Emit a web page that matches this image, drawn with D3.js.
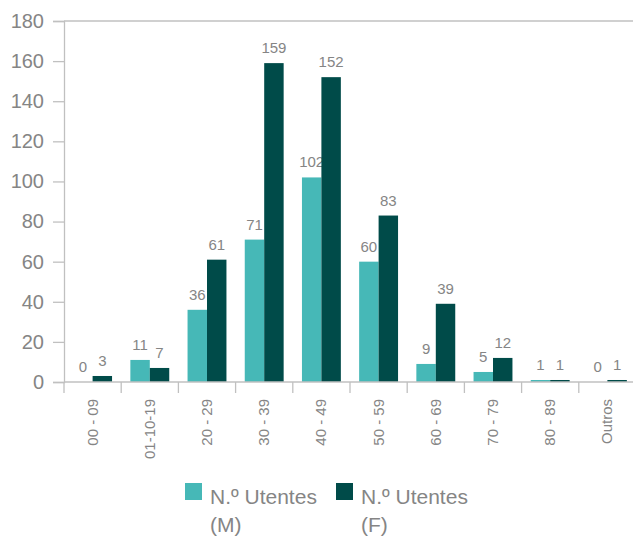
<!DOCTYPE html>
<html><head><meta charset="utf-8">
<script src="https://cdn.jsdelivr.net/npm/d3@7"></script>
<style>body{margin:0;background:#fff}svg{display:block;font-family:"Liberation Sans",Arial,sans-serif}</style>
</head><body><svg id="c" width="633" height="536"></svg>
<script>
const categories = ["00 - 09","01-10-19","20 - 29","30 - 39","40 - 49","50 - 59","60 - 69","70 - 79","80 - 89","Outros"];
const seriesM = [0,11,36,71,102,60,9,5,1,0];
const seriesF = [3,7,61,159,152,83,39,12,1,1];
const seriesNames = ["N.º Utentes (M)","N.º Utentes (F)"];
const yTicks = [0,20,40,60,80,100,120,140,160,180];
const colors = ["#46b8b7","#004b49"];

const svg = d3.select("#c");
const x0 = 64, x1 = 636, yTop = 21, yBot = 382;
const x = d3.scaleBand().domain(categories).range([x0,x1]).paddingInner(0.32).paddingOuter(0.16);
const xs = d3.scaleBand().domain([0,1]).range([0,x.bandwidth()]);
const y = d3.scaleLinear().domain([0,180]).range([yBot,yTop]);
const axisCol = "#c0c0c0", textCol = "#858585";

// top line at 180
svg.append("line").attr("x1",x0).attr("x2",x1).attr("y1",y(180)).attr("y2",y(180)).attr("stroke",axisCol).attr("stroke-width",1.3);

// y axis
const ya = svg.append("g").attr("transform",`translate(${x0},0)`)
  .call(d3.axisLeft(y).tickValues(yTicks).tickSize(11).tickPadding(9));
ya.select(".domain").attr("stroke",axisCol).attr("stroke-width",1.3);
ya.selectAll(".tick line").attr("stroke",axisCol).attr("stroke-width",1.3);
ya.selectAll("text").attr("fill",textCol).style("font-size","20px").attr("font-family",null);

// bars
const data = categories.map((c,i)=>({c, v:[seriesM[i],seriesF[i]]}));
const g = svg.append("g");
data.forEach(d=>{
  d.v.forEach((v,k)=>{
    const bx = x(d.c)+xs(k);
    g.append("rect").attr("x",bx).attr("width",xs.bandwidth()).attr("y",y(v)).attr("height",yBot-y(v)).attr("fill",colors[k]);
    g.append("text").attr("x",bx+xs.bandwidth()/2).attr("y",y(v)-10).attr("text-anchor","middle")
      .attr("fill",textCol).style("font-size","15px").text(v);
  });
});

// x axis
const xTickScale = d3.scalePoint().domain(d3.range(categories.length+1)).range([x0,x1]);
const xa = svg.append("g").attr("transform",`translate(0,${yBot})`);
xa.append("line").attr("x1",x0).attr("x2",x1).attr("stroke",axisCol).attr("stroke-width",1.3);
xa.selectAll("line.t").data(d3.range(categories.length)).join("line").attr("class","t")
  .attr("x1",d=>xTickScale(d)).attr("x2",d=>xTickScale(d)).attr("y1",0).attr("y2",11).attr("stroke",axisCol).attr("stroke-width",1.3);
xa.selectAll("text").data(categories).join("text")
  .attr("transform",d=>`translate(${x(d)+x.bandwidth()/2+5},17) rotate(-90)`)
  .attr("text-anchor","end").attr("fill",textCol).style("font-size","15px").text(d=>d);

// legend
const leg = [{x:185,col:colors[0],l1:"N.º Utentes",l2:"(M)"},{x:336,col:colors[1],l1:"N.º Utentes",l2:"(F)"}];
leg.forEach((L,i)=>{
  svg.append("rect").attr("x",L.x).attr("y",483).attr("width",17).attr("height",17).attr("fill",L.col);
  svg.append("text").attr("x",L.x+25).attr("y",504).attr("fill",textCol).style("font-size","21px").text(seriesNames[i].split(" (")[0]);
  svg.append("text").attr("x",L.x+25).attr("y",532).attr("fill",textCol).style("font-size","21px").text("("+seriesNames[i].split(" (")[1]);
});
</script></body></html>
